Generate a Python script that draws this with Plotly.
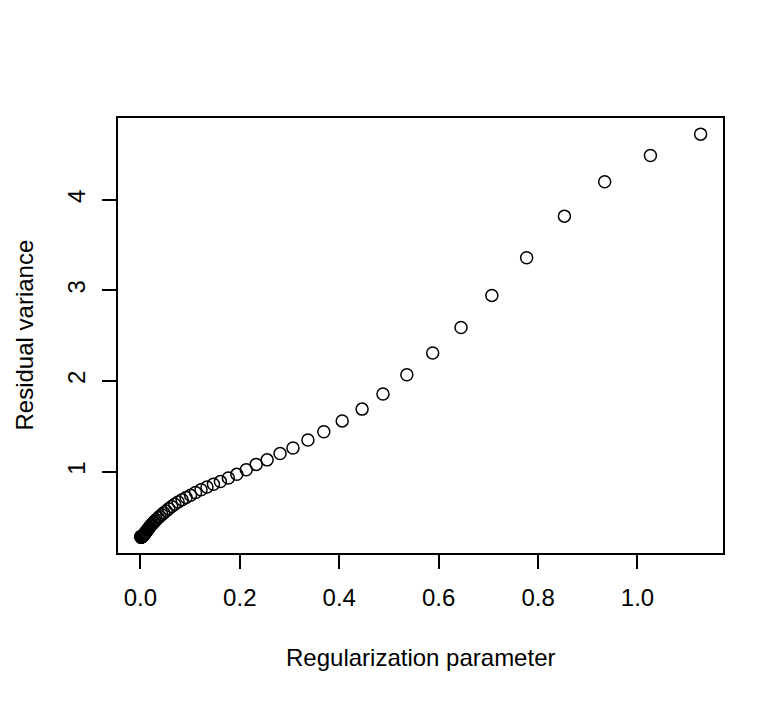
import plotly.graph_objects as go

reg_param = [1.127, 1.026, 0.934, 0.853, 0.777, 0.707, 0.645, 0.588, 0.536, 0.488,
             0.446, 0.406, 0.369, 0.337, 0.307, 0.281, 0.255, 0.233, 0.213,
             0.194, 0.177, 0.161, 0.147, 0.134, 0.122, 0.111, 0.101, 0.092, 0.084,
             0.076, 0.069, 0.063, 0.057, 0.052, 0.047, 0.043, 0.039, 0.036, 0.032,
             0.029, 0.027, 0.024, 0.022, 0.020, 0.018, 0.017, 0.015, 0.014, 0.013,
             0.011, 0.010,
             0.0093, 0.0085, 0.0077, 0.0070, 0.0064, 0.0058, 0.0053, 0.0048, 0.0044, 0.0040,
             0.0036, 0.0033, 0.0030, 0.0027, 0.0025, 0.0023, 0.0021, 0.0019, 0.0017, 0.0016,
             0.0014, 0.0013, 0.0012, 0.0011, 0.0010]

resid_var = [4.725, 4.49, 4.20, 3.82, 3.36, 2.945, 2.59, 2.31, 2.07, 1.857,
             1.69, 1.56, 1.44, 1.35, 1.26, 1.20, 1.13, 1.08, 1.02,
             0.97, 0.93, 0.89, 0.86, 0.83, 0.80, 0.77, 0.74, 0.715, 0.69,
             0.665, 0.64, 0.615, 0.59, 0.565, 0.545, 0.525, 0.505, 0.49, 0.47,
             0.455, 0.44, 0.425, 0.41, 0.40, 0.385, 0.375, 0.365, 0.355, 0.345,
             0.335, 0.327,
             0.32, 0.314, 0.308, 0.303, 0.299, 0.295, 0.292, 0.289, 0.287, 0.285,
             0.284, 0.283, 0.282, 0.281, 0.281, 0.280, 0.280, 0.280, 0.280, 0.280,
             0.280, 0.280, 0.280, 0.280, 0.280]

x_ticks = [0.0, 0.2, 0.4, 0.6, 0.8, 1.0]
x_tick_labels = ["0.0", "0.2", "0.4", "0.6", "0.8", "1.0"]
y_ticks = [1, 2, 3, 4]
y_tick_labels = ["1", "2", "3", "4"]

FONT = "Liberation Sans, Arial, Helvetica, sans-serif"

fig = go.Figure(go.Scatter(
    x=reg_param, y=resid_var, mode="markers",
    marker=dict(symbol="circle-open", size=12, color="black", line=dict(width=1.5, color="black")),
    showlegend=False, hoverinfo="x+y",
))

axis_common = dict(
    showline=True, linecolor="black", linewidth=1.5, mirror=True,
    ticks="outside", ticklen=14, tickwidth=1.5, tickcolor="black",
    showgrid=False, zeroline=False,
    tickfont=dict(family=FONT, size=24, color="black"),
)

fig.update_xaxes(range=[-0.045, 1.172], tickvals=x_ticks, ticktext=x_tick_labels,
                 ticklabelstandoff=8, **axis_common)
fig.update_yaxes(range=[0.102, 4.903], tickvals=y_ticks, ticktext=y_tick_labels,
                 tickangle=-90, ticklabelstandoff=8, **axis_common)

# The page body has an 8px default margin; the figure is sized so the plot
# area lands where it does in the reference (118..723 x 118..553).
fig.update_layout(
    width=776, height=693,
    margin=dict(l=110, r=61, t=110, b=148, autoexpand=False),
    paper_bgcolor="white", plot_bgcolor="white",
    font=dict(family=FONT, size=24, color="black"),
    annotations=[
        dict(text="Regularization parameter", xref="paper", yref="paper",
             x=0.5, y=(553 - 657) / 435, xanchor="center", yanchor="middle",
             showarrow=False, font=dict(family=FONT, size=24, color="black")),
        dict(text="Residual variance", xref="paper", yref="paper",
             x=(24 - 118) / 605, y=0.5, xanchor="center", yanchor="middle",
             textangle=-90, showarrow=False,
             font=dict(family=FONT, size=24, color="black")),
    ],
)

fig.write_html("out.html")
